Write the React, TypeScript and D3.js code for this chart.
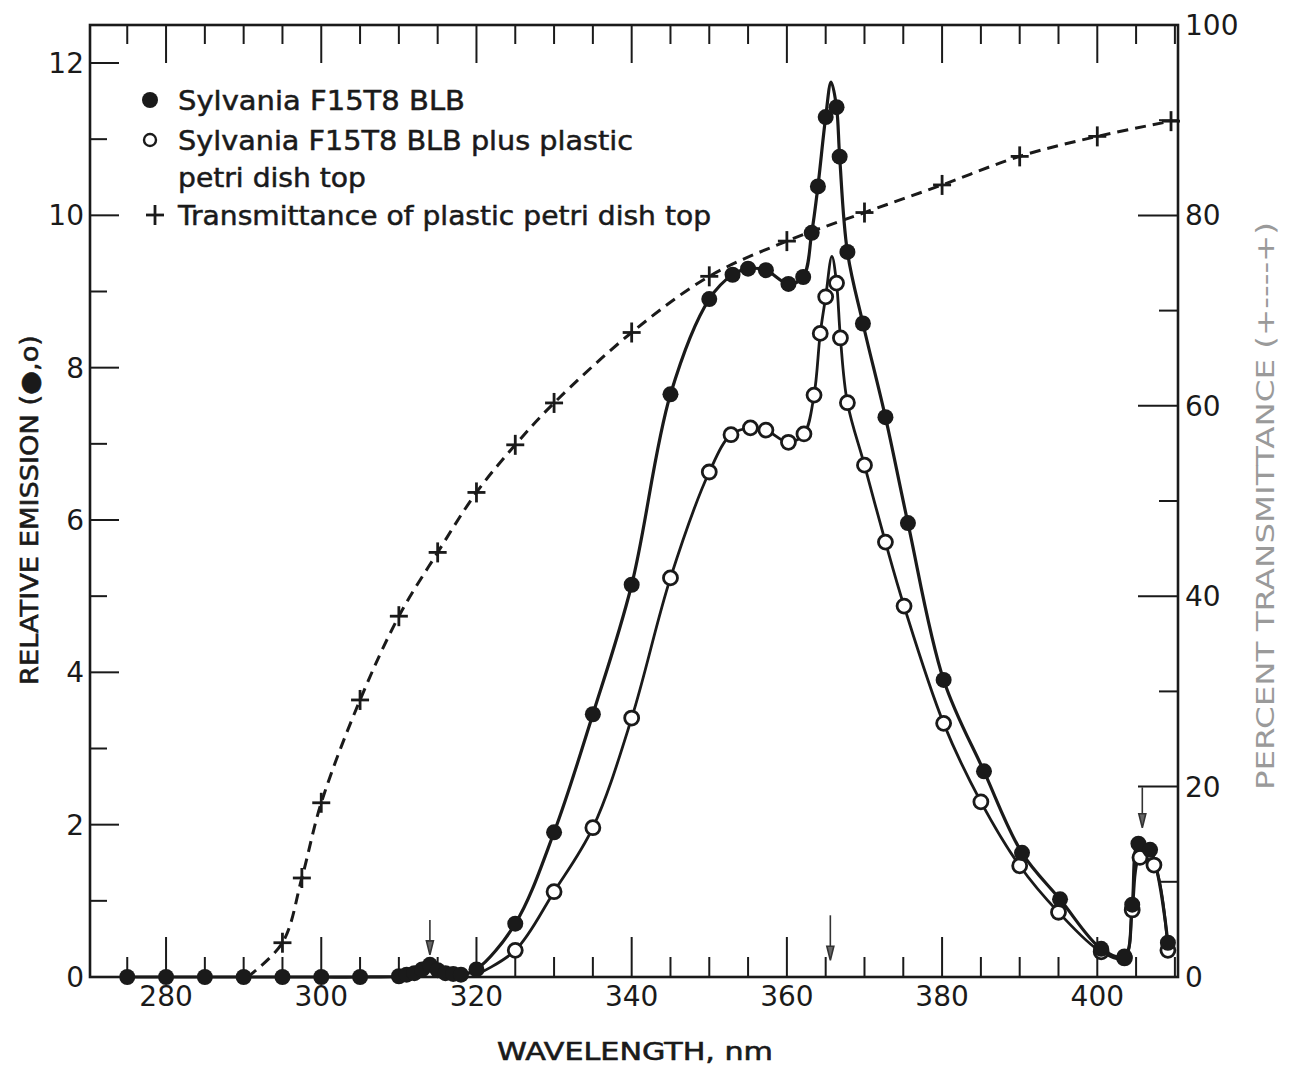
import React from 'react';
import * as d3 from 'd3';

// ---- Data ----
const bareLampNm = [275, 280, 285, 290, 295, 300, 305, 310, 311, 312, 313, 314, 315, 316, 317, 318, 320, 325, 330, 335, 340, 345, 350, 353, 355, 357.3, 360.2, 362.1, 363.2, 364, 365, 366.4, 366.8, 367.8, 369.8, 372.7, 375.6, 380.2, 385.4, 390.3, 395.2, 400.5, 403.5, 404.5, 405.3, 406.8, 409.1];
const bareLampRel = [0, 0, 0, 0, 0, 0, 0, 0.01, 0.03, 0.05, 0.1, 0.16, 0.09, 0.05, 0.04, 0.03, 0.1, 0.7, 1.9, 3.45, 5.15, 7.65, 8.9, 9.22, 9.3, 9.28, 9.1, 9.19, 9.77, 10.38, 11.29, 11.42, 10.77, 9.52, 8.58, 7.35, 5.96, 3.9, 2.7, 1.63, 1.02, 0.37, 0.27, 0.95, 1.75, 1.67, 0.45];
const bareLampPeak = [365.7, 11.75];

const withDishNm = [320, 325, 330, 335, 340, 345, 350, 352.8, 355.3, 357.3, 360.2, 362.2, 363.5, 364.3, 365, 366.4, 366.9, 367.8, 370, 372.7, 375.1, 380.2, 385, 390, 395, 400.5, 403.5, 404.5, 405.5, 407.3, 409.1];
const withDishRel = [0.03, 0.35, 1.12, 1.96, 3.4, 5.24, 6.63, 7.12, 7.21, 7.18, 7.02, 7.13, 7.64, 8.45, 8.93, 9.11, 8.39, 7.54, 6.72, 5.71, 4.87, 3.33, 2.3, 1.46, 0.85, 0.33, 0.25, 0.88, 1.57, 1.47, 0.35];
const withDishPeak = [365.8, 9.46];

const transNm = [290.5, 295, 297.5, 300, 305, 310, 315, 320, 325, 330, 340, 350, 360, 370, 380, 390, 400, 409.5];
const transPct = [0, 3.6, 10.4, 18.3, 29.1, 37.9, 44.6, 50.9, 55.9, 60.3, 67.7, 73.6, 77.3, 80.3, 83.2, 86.2, 88.3, 89.9];

const arrowNm = [314, 365.6, 405.8];
const arrowTop = [0.75, 0.81, 2.49];
const arrowBottom = [0.29, 0.22, 1.96];

const xTickLabels = [280, 300, 320, 340, 360, 380, 400];
const yLeftLabels = [0, 2, 4, 6, 8, 10, 12];
const yRightLabels = [0, 20, 40, 60, 80, 100];

const legendItems = [
  { mark: 'filled', lines: ['Sylvania F15T8 BLB'] },
  { mark: 'open', lines: ['Sylvania F15T8 BLB plus plastic', 'petri dish top'] },
  { mark: 'cross', lines: ['Transmittance of plastic petri dish top'] },
];

const FONT = '"DejaVu Sans", "Liberation Sans", sans-serif';
const INK = '#1a1a1a';

export default function App() {
  const W = 1294, H = 1072;
  const left = 90, right = 1178, top = 25, bottom = 977;

  const x = d3.scaleLinear().domain([270.2, 410.4]).range([left, right]);
  const y = d3.scaleLinear().domain([0, 12]).range([bottom, 63]);
  const y2 = d3.scaleLinear().domain([0, 100]).range([bottom, 25]);

  const bare = bareLampNm.map((n, i) => [n, bareLampRel[i]] as [number, number]);
  const dish = withDishNm.map((n, i) => [n, withDishRel[i]] as [number, number]);
  const trans = transNm.map((n, i) => [n, transPct[i]] as [number, number]);

  const bareLine = [...bare, bareLampPeak as [number, number]].sort((a, b) => a[0] - b[0]);
  const dishLine = [...dish, withDishPeak as [number, number]].sort((a, b) => a[0] - b[0]);

  const line1 = d3.line<[number, number]>().x(d => x(d[0])).y(d => y(d[1])).curve(d3.curveCatmullRom.alpha(0.5));
  const line2 = d3.line<[number, number]>().x(d => x(d[0])).y(d => y2(d[1])).curve(d3.curveCatmullRom.alpha(0.5));

  const minorX = d3.range(275, 410.1, 5);
  const leftTicks = d3.range(0, 12.1, 1);
  const rightTicks = d3.range(0, 100.1, 10);

  const cross = (cx: number, cy: number, k: string | number) => (
    <g key={k} stroke={INK} strokeWidth={2.8}>
      <line x1={cx - 9} x2={cx + 9} y1={cy} y2={cy} />
      <line x1={cx} x2={cx} y1={cy - 10} y2={cy + 10} />
    </g>
  );

  return (
    <svg width={W} height={H} viewBox={`0 0 ${W} ${H}`} style={{ position: 'absolute', left: 0, top: 0, background: '#fff' }}>
      <rect x={0} y={0} width={W} height={H} fill="#fff" />
      {/* frame */}
      <rect x={left} y={top} width={right - left} height={bottom - top} fill="none" stroke={INK} strokeWidth={2.6} />

      {/* bottom & top ticks */}
      {minorX.map(v => {
        const major = v % 20 === 0;
        return (
          <g key={'xt' + v} stroke={INK} strokeWidth={2}>
            <line x1={x(v)} x2={x(v)} y1={bottom} y2={bottom - (major ? 40 : 20)} />
            <line x1={x(v)} x2={x(v)} y1={top} y2={top + (major ? 38 : 19)} />
          </g>
        );
      })}
      {xTickLabels.map(v => (
        <text key={'xl' + v} x={x(v)} y={1006} textAnchor="middle" fontFamily={FONT} fontSize={28} fill={INK}>{v}</text>
      ))}

      {/* left ticks */}
      {leftTicks.map(v => (
        <line key={'lt' + v} x1={left} x2={left + (v % 2 === 0 ? 29 : 17)} y1={y(v)} y2={y(v)} stroke={INK} strokeWidth={2} />
      ))}
      {yLeftLabels.map(v => (
        <text key={'ll' + v} x={84} y={y(v) + 10} textAnchor="end" fontFamily={FONT} fontSize={28} fill={INK}>{v}</text>
      ))}

      {/* right ticks */}
      {rightTicks.map(v => (
        <line key={'rt' + v} x1={right} x2={right - (v % 20 === 0 ? 40 : 19)} y1={y2(v)} y2={y2(v)} stroke={INK} strokeWidth={2} />
      ))}
      {yRightLabels.map(v => (
        <text key={'rl' + v} x={1185} y={y2(v) + 10} textAnchor="start" fontFamily={FONT} fontSize={28} fill={INK}>{v}</text>
      ))}

      {/* axis titles */}
      <text x={635} y={1060} textAnchor="middle" fontFamily={FONT} fontSize={25} fill={INK} stroke={INK} strokeWidth={0.6} textLength={276} lengthAdjust="spacingAndGlyphs">WAVELENGTH, nm</text>
      <text transform="translate(38,510) rotate(-90)" textAnchor="middle" fontFamily={FONT} fontSize={25} fill={INK} stroke={INK} strokeWidth={0.6} textLength={350} lengthAdjust="spacingAndGlyphs">RELATIVE EMISSION (●,o)</text>
      <text transform="translate(1274,506) rotate(-90)" textAnchor="middle" fontFamily={FONT} fontSize={25} fill="#9a9a9a" textLength={568} lengthAdjust="spacingAndGlyphs">PERCENT TRANSMITTANCE (+----+)</text>

      {/* curves */}
      <path d={line2(trans) || ''} fill="none" stroke={INK} strokeWidth={3} strokeDasharray="11 7" />
      <path d={line1(bareLine) || ''} fill="none" stroke={INK} strokeWidth={3.2} />
      <path d={line1(dishLine) || ''} fill="none" stroke={INK} strokeWidth={2.8} />

      {/* arrows */}
      {arrowNm.map((n, i) => {
        const ax = x(n), y0 = y(arrowTop[i]), y1 = y(arrowBottom[i]);
        return (
          <g key={'ar' + i} stroke="#333" strokeWidth={1.6} fill="#666">
            <line x1={ax} x2={ax} y1={y0} y2={y1 - 12} />
            <path d={`M${ax - 3.5},${y1 - 14} L${ax + 3.5},${y1 - 14} L${ax},${y1} Z`} />
          </g>
        );
      })}

      {/* markers */}
      {trans.filter(d => d[1] > 0).map((d, i) => cross(x(d[0]), y2(d[1]), 'c' + i))}
      {dish.filter(d => d[0] > 320).map((d, i) => (
        <circle key={'o' + i} cx={x(d[0])} cy={y(d[1])} r={7} fill="#fff" stroke={INK} strokeWidth={2.8} />
      ))}
      {bare.map((d, i) => (
        <circle key={'f' + i} cx={x(d[0])} cy={y(d[1])} r={8} fill={INK} />
      ))}

      {/* legend */}
      {legendItems.map((it, i) => {
        const ly = [100, 140, 215][i];
        const markX = it.mark === 'cross' ? 155 : 150;
        return (
          <g key={'lg' + i}>
            {it.mark === 'filled' && <circle cx={markX} cy={ly} r={8} fill={INK} />}
            {it.mark === 'open' && <circle cx={markX} cy={ly} r={6} fill="#fff" stroke={INK} strokeWidth={2.4} />}
            {it.mark === 'cross' && cross(markX, ly, 'lc')}
            {it.lines.map((t, j) => (
              <text key={j} x={178} y={ly + 10 + j * 37} fontFamily={FONT} fontSize={26} fill={INK} stroke={INK} strokeWidth={0.5}
                textLength={[[287], [455, 188], [533]][i][j]} lengthAdjust="spacingAndGlyphs">{t}</text>
            ))}
          </g>
        );
      })}
    </svg>
  );
}
